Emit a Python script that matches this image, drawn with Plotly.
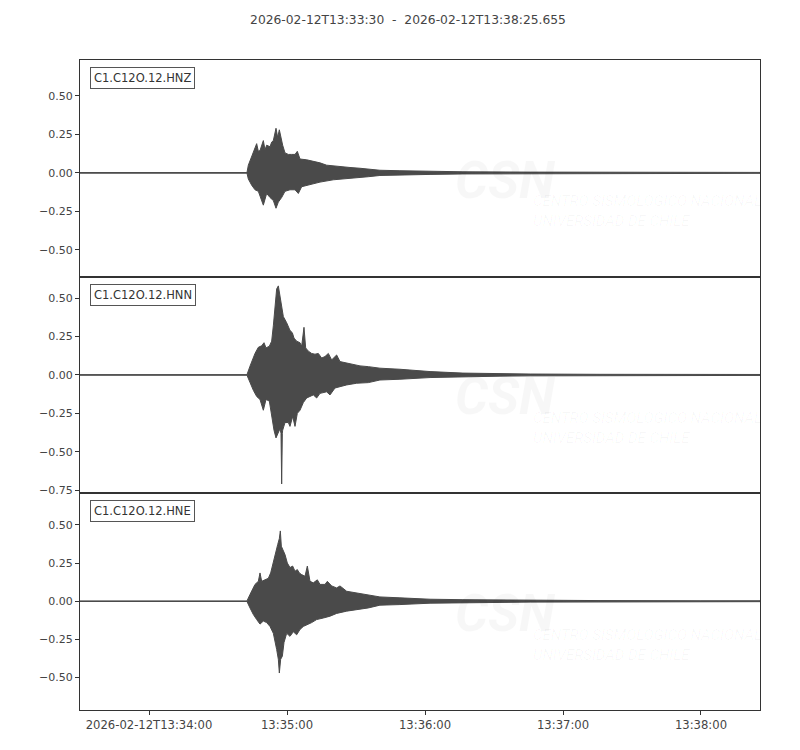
import pandas as pd
import plotly.graph_objects as go
from plotly.subplots import make_subplots

START = "2026-02-12 13:33:30"
TITLE = "2026-02-12T13:33:30  -  2026-02-12T13:38:25.655"
CHANNELS = ["C1.C12O.12.HNZ", "C1.C12O.12.HNN", "C1.C12O.12.HNE"]

# Envelope of each trace: seconds after START, amplitude
hnz_up_t = [0, 72.6, 73.19, 74.64, 76.09, 76.81, 77.54, 78.26, 79.71, 80.43, 81.16, 82.61, 83.33, 84.06,
            85.22, 85.94, 86.67, 87.25, 88.12, 89.13, 90.58, 92.03, 93.48, 94.49, 95.65, 98.55, 100.0,
            101.45, 104.35, 107.25, 110.14, 113.04, 117.39, 121.74, 125.36, 130.4, 139.1, 152.2, 166.5,
            195.7, 226.1, 269.6, 295.655]
hnz_up_v = [0.002, 0.002, 0.05, 0.11, 0.17, 0.19, 0.14, 0.145, 0.21, 0.15, 0.18, 0.17, 0.20, 0.21,
            0.29, 0.23, 0.28, 0.23, 0.18, 0.13, 0.12, 0.12, 0.12, 0.14, 0.09, 0.085, 0.08,
            0.075, 0.065, 0.05, 0.045, 0.04, 0.035, 0.03, 0.025, 0.017, 0.014, 0.01, 0.007,
            0.005, 0.004, 0.003, 0.003]
hnz_lo_t = [0, 72.6, 73.19, 74.64, 76.09, 77.54, 78.55, 79.71, 81.16, 82.61, 84.06, 85.22, 86.23, 87.68,
            89.13, 91.3, 93.48, 94.93, 96.38, 100.0, 104.35, 110.14, 115.94, 125.36, 130.4, 139.1,
            152.2, 166.5, 195.7, 226.1, 269.6, 295.655]
hnz_lo_v = [-0.002, -0.002, -0.04, -0.08, -0.11, -0.12, -0.16, -0.21, -0.134, -0.16, -0.18, -0.23, -0.19,
            -0.16, -0.12, -0.11, -0.11, -0.134, -0.09, -0.075, -0.06, -0.045, -0.035, -0.025, -0.017,
            -0.014, -0.01, -0.007, -0.005, -0.004, -0.003, -0.003]

hnn_up_t = [0, 72.6, 73.91, 75.36, 76.09, 77.54, 78.99, 80.0, 80.87, 82.32, 83.33, 84.06, 84.78, 85.51,
            86.23, 86.96, 87.68, 88.41, 89.86, 91.3, 92.32, 93.04, 94.2, 95.65, 96.38, 97.39, 98.12,
            99.28, 100.72, 102.17, 103.62, 105.07, 106.52, 107.97, 109.42, 111.59, 113.04, 115.94,
            118.84, 121.74, 125.36, 130.4, 139.1, 152.2, 166.5, 182.6, 195.7, 226.1, 269.6, 295.655]
hnn_up_v = [0.002, 0.002, 0.057, 0.12, 0.14, 0.18, 0.19, 0.21, 0.176, 0.187, 0.22, 0.32, 0.45, 0.56,
            0.58, 0.52, 0.45, 0.38, 0.34, 0.29, 0.275, 0.24, 0.22, 0.21, 0.187, 0.31, 0.176,
            0.155, 0.14, 0.135, 0.14, 0.11, 0.12, 0.14, 0.098, 0.13, 0.087, 0.076,
            0.065, 0.059, 0.054, 0.044, 0.037, 0.022, 0.012, 0.008, 0.006, 0.004, 0.003, 0.003]
hnn_lo_t = [0, 72.6, 73.91, 75.36, 76.81, 78.26, 79.71, 80.87, 82.32, 83.33, 84.35, 85.22, 86.23, 86.96,
            87.39, 87.68, 87.97, 88.12, 89.13, 90.58, 91.3, 92.46, 93.48, 94.49, 95.65, 97.1, 98.55,
            100.0, 101.45, 102.9, 104.35, 107.25, 108.7, 110.87, 113.04, 115.94, 120.29, 125.36,
            130.4, 139.1, 152.2, 166.5, 182.6, 195.7, 226.1, 269.6, 295.655]
hnn_lo_v = [-0.002, -0.002, -0.05, -0.10, -0.14, -0.16, -0.23, -0.16, -0.17, -0.27, -0.36, -0.41, -0.38,
            -0.35, -0.38, -0.71, -0.38, -0.36, -0.31, -0.31, -0.335, -0.27, -0.335, -0.25, -0.23, -0.18,
            -0.15, -0.14, -0.13, -0.15, -0.12, -0.11, -0.13, -0.085, -0.076, -0.065, -0.054, -0.05,
            -0.033, -0.028, -0.017, -0.012, -0.008, -0.006, -0.004, -0.003, -0.003]

hne_up_t = [0, 72.6, 73.91, 75.36, 76.09, 77.54, 78.26, 78.99, 80.43, 81.88, 82.9, 84.06, 84.78, 85.51,
            85.94, 86.67, 87.1, 87.54, 88.12, 89.13, 90.14, 91.3, 92.46, 93.48, 94.49, 95.36, 96.38,
            97.83, 98.84, 100.0, 101.45, 103.19, 104.35, 106.52, 107.54, 109.42, 111.59, 113.04,
            115.94, 120.29, 125.36, 130.4, 139.1, 152.2, 166.5, 182.6, 195.7, 226.1, 269.6, 295.655]
hne_up_v = [0.002, 0.002, 0.044, 0.087, 0.11, 0.13, 0.185, 0.13, 0.14, 0.15, 0.185, 0.26, 0.31, 0.36,
            0.37, 0.41, 0.46, 0.36, 0.34, 0.305, 0.25, 0.22, 0.23, 0.196, 0.207, 0.185, 0.174,
            0.163, 0.23, 0.13, 0.12, 0.14, 0.11, 0.11, 0.13, 0.10, 0.087, 0.10,
            0.065, 0.054, 0.044, 0.028, 0.022, 0.013, 0.01, 0.008, 0.006, 0.004, 0.003, 0.003]
hne_lo_t = [0, 72.6, 73.91, 75.36, 76.81, 78.26, 79.71, 81.16, 82.61, 84.06, 84.78, 85.51, 86.23, 86.67,
            87.25, 87.97, 88.7, 89.86, 91.3, 92.75, 94.2, 95.65, 97.1, 98.55, 100.72, 102.9, 105.8,
            108.7, 111.59, 115.94, 120.29, 125.36, 130.4, 139.1, 152.2, 166.5, 182.6, 195.7, 226.1,
            269.6, 295.655]
hne_lo_v = [-0.002, -0.002, -0.044, -0.087, -0.12, -0.15, -0.13, -0.14, -0.165, -0.21, -0.26, -0.316,
            -0.38, -0.47, -0.38, -0.36, -0.27, -0.21, -0.23, -0.2, -0.22, -0.185, -0.165, -0.155,
            -0.14, -0.12, -0.11, -0.098, -0.08, -0.065, -0.054, -0.044, -0.026, -0.022, -0.013,
            -0.01, -0.008, -0.006, -0.004, -0.003, -0.003]

Y_RANGES = [[-0.675, 0.734], [-0.771, 0.64], [-0.712, 0.706]]
Y_TICKS = [[-0.5, -0.25, 0, 0.25, 0.5], [-0.75, -0.5, -0.25, 0, 0.25, 0.5], [-0.5, -0.25, 0, 0.25, 0.5]]
X_TICKS = ["2026-02-12 13:34:00", "2026-02-12 13:35:00", "2026-02-12 13:36:00",
           "2026-02-12 13:37:00", "2026-02-12 13:38:00"]
X_TICK_TEXT = ["2026-02-12T13:34:00", "13:35:00", "13:36:00", "13:37:00", "13:38:00"]

base = pd.Timestamp(START)


def to_time(sec):
    return [(base + pd.Timedelta(seconds=s)).strftime("%Y-%m-%d %H:%M:%S.%f")[:-3] for s in sec]


envelopes = [
    (hnz_up_t, hnz_up_v, hnz_lo_t, hnz_lo_v),
    (hnn_up_t, hnn_up_v, hnn_lo_t, hnn_lo_v),
    (hne_up_t, hne_up_v, hne_lo_t, hne_lo_v),
]

WAVE = "#4a4a4a"
TEXT = "#444444"
FONT = "DejaVu Sans"
WM = "rgba(0,0,0,0.03)"

fig = make_subplots(rows=3, cols=1, shared_xaxes=True, vertical_spacing=0)

for i, (ut, uv, lt, lv) in enumerate(envelopes):
    xs = to_time(ut) + to_time(lt[::-1])
    ys = list(uv) + list(lv[::-1])
    fig.add_trace(go.Scatter(x=xs, y=ys, mode="lines", fill="toself", fillcolor=WAVE,
                             line=dict(color=WAVE, width=1), hoverinfo="skip", showlegend=False),
                  row=i + 1, col=1)

end_time = to_time([hnz_up_t[-1]])[0]
start_time = to_time([0])[0]


def fmt(v):
    s = f"{abs(v):.2f}"
    return ("\u2212" + s) if v < 0 else s


for i in range(3):
    r = i + 1
    fig.update_yaxes(range=Y_RANGES[i], tickvals=Y_TICKS[i], ticktext=[fmt(v) for v in Y_TICKS[i]],
                     showline=True, mirror=True, linecolor="#333333", linewidth=1,
                     ticks="outside", ticklen=4, tickcolor="#333333", showgrid=False, zeroline=False,
                     tickfont=dict(family=FONT, size=11, color=TEXT), row=r, col=1)
    fig.update_xaxes(range=[start_time, end_time], type="date", showline=True, mirror=True,
                     linecolor="#333333", linewidth=1, showgrid=False, zeroline=False,
                     tickvals=X_TICKS, ticktext=X_TICK_TEXT,
                     ticks="outside" if r == 3 else "", ticklen=4, tickcolor="#333333",
                     showticklabels=(r == 3),
                     tickfont=dict(family=FONT, size=11.6, color=TEXT), row=r, col=1)
    yref = "y domain" if r == 1 else f"y{r} domain"
    xref = "x domain" if r == 1 else f"x{r} domain"
    # faint watermark
    fig.add_annotation(text="<b><i>CSN</i></b>", xref=xref, yref=yref, x=0.625, y=0.445,
                       showarrow=False, font=dict(family="Roboto", size=52, color=WM))
    fig.add_annotation(text="<i>CENTRO SISMOLÓGICO NACIONAL<br>UNIVERSIDAD DE CHILE</i>",
                       xref=xref, yref=yref, x=0.663, y=0.205, xanchor="left", align="left",
                       showarrow=False, font=dict(family="Roboto", size=15, color=WM))
    fig.add_annotation(text=CHANNELS[i], xref=xref, yref=yref, x=0.015, y=0.968,
                       xanchor="left", yanchor="top", showarrow=False,
                       bordercolor="#555555", borderwidth=1, borderpad=3, bgcolor="white",
                       font=dict(family=FONT, size=11.5, color="#333333"))

fig.update_layout(
    width=800, height=750,
    margin=dict(l=72, r=48, t=52, b=48),
    paper_bgcolor="white", plot_bgcolor="white",
    title=dict(text=TITLE, x=0.5, xref="container", xanchor="center",
               y=1 - 12 / 750, yref="container", yanchor="middle",
               font=dict(family=FONT, size=12.3, color=TEXT)),
    showlegend=False,
)

fig.write_html("out.html")
